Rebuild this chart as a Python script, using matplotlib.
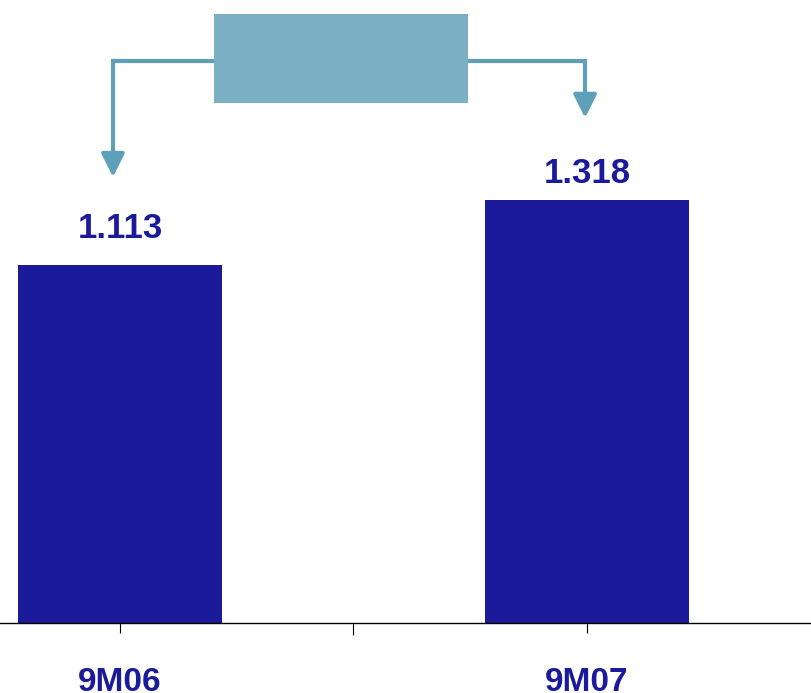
import matplotlib.pyplot as plt
from matplotlib.patches import Rectangle

# Datos
periods = ["9M06", "9M07"]
values = [1113, 1318]
value_labels = ["1.113", "1.318"]

bar_color = "#1a1a9a"
box_color = "#7aafc4"
arrow_color = "#5ea0b9"

fig = plt.figure(figsize=(8.12, 6.93), dpi=100)
ax = fig.add_axes([0, 1 - 623 / 693, 1, 623 / 693])

x = list(range(len(periods)))
ax.bar(x, values, width=0.437, color=bar_color, zorder=2)
ax.set_xlim(-0.257, 1.482)
ax.set_ylim(0, 1939)

# Etiquetas de valor sobre las barras
offsets = [15, 6.5]
for xi, v, lab, off in zip(x, values, value_labels, offsets):
    ax.annotate(lab, (xi, v), xytext=(0, off), textcoords="offset points",
                ha="center", va="bottom", fontsize=25, fontweight="bold",
                color=bar_color, family=["Liberation Sans", "DejaVu Sans"])

# Ejes
for s in ["top", "left", "right"]:
    ax.spines[s].set_visible(False)
ax.spines["bottom"].set_linewidth(1)
ax.set_yticks([])
ax.set_xticks(x)
ax.set_xticklabels(periods, fontsize=24, fontweight="bold", color=bar_color,
                   family=["Liberation Sans", "DejaVu Sans"])
ax.set_xticks([0.5], minor=True)
ax.tick_params(axis="x", which="major", length=7, width=0.8, pad=25)
ax.tick_params(axis="x", which="minor", length=8.5, width=0.8)

# Caja y flechas
ax.add_patch(Rectangle((0.201, 1618), 0.544, 277, facecolor=box_color,
                       edgecolor="none", zorder=3, clip_on=False))
y_line = 1749
ax.plot([0.201, -0.015, -0.015], [y_line, y_line, 1460], color=arrow_color,
        lw=3, solid_joinstyle="miter", zorder=2)
ax.plot([0.745, 0.996, 0.996], [y_line, y_line, 1640], color=arrow_color,
        lw=3, solid_joinstyle="miter", zorder=2)
head = "-|>,head_length=1.4,head_width=0.7"
ax.annotate("", xy=(-0.015, 1388), xytext=(-0.015, 1470),
            arrowprops=dict(arrowstyle=head, color=arrow_color, lw=3,
                            shrinkA=0, shrinkB=0))
ax.annotate("", xy=(0.996, 1572), xytext=(0.996, 1650),
            arrowprops=dict(arrowstyle=head, color=arrow_color, lw=3,
                            shrinkA=0, shrinkB=0))

fig.savefig("out.png", dpi=100)
